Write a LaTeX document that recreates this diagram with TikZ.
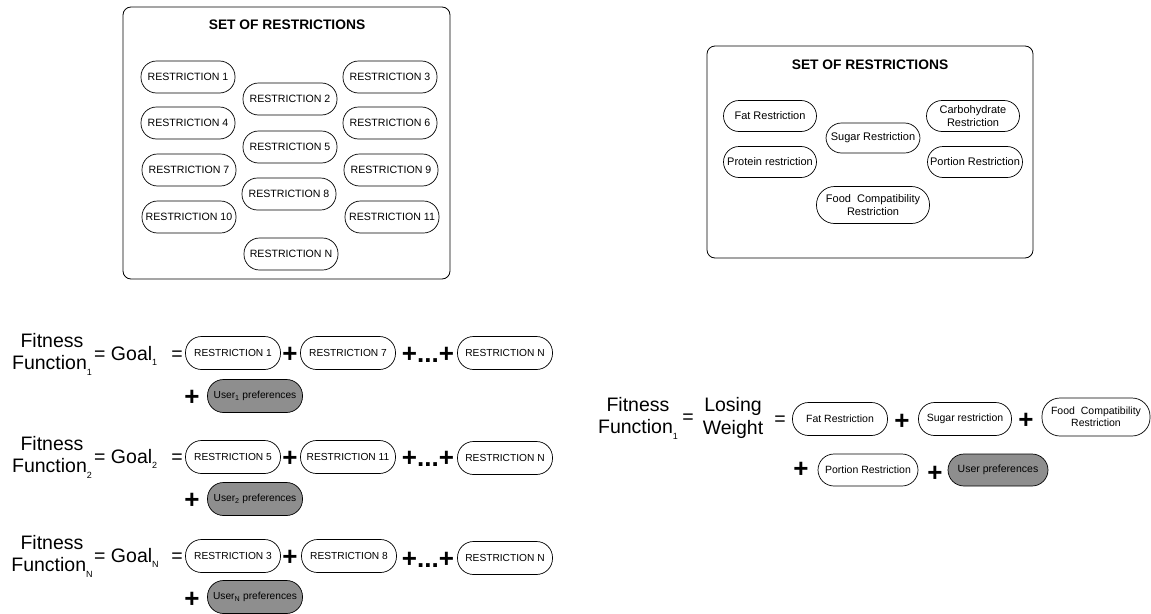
\documentclass[tikz,border=0pt]{standalone}
\usepackage{fontspec}
\setmainfont{Liberation Sans}
\definecolor{pillgray}{RGB}{142,142,142}
\newcommand\bigsub[1]{\raisebox{-5.5pt}{\fontsize{9}{9}\selectfont #1}}
\begin{document}
\begin{tikzpicture}[x=1pt,y=-1pt,
  pill/.style={draw, line width=0.7pt, rounded corners=15.5pt, minimum width=94pt, minimum height=32pt, inner sep=1pt, align=center, font=\fontsize{10.6}{12}\selectfont},
  rpill/.style={pill, minimum width=93pt, minimum height=31pt, font=\fontsize{11}{12.5}\selectfont},
  fpill/.style={pill, minimum width=95pt, minimum height=33pt, rounded corners=16pt, font=\fontsize{10.2}{11.5}\selectfont},
  upill/.style={fpill, fill=pillgray},
  frame/.style={draw, line width=0.8pt, rounded corners=8pt},
  title/.style={font=\fontsize{13.8}{16}\bfseries\selectfont, inner sep=0pt},
  big/.style={font=\fontsize{19.5}{22.5}\selectfont, align=center, inner sep=0pt},
  eqs/.style={font=\fontsize{19.5}{22}\selectfont, inner sep=0pt, anchor=base},
  plus/.style={font=\fontsize{26}{26}\bfseries\selectfont, inner sep=0pt, anchor=base},
]
\useasboundingbox (0,0) rectangle (1151,613);

% ---------- left set of restrictions ----------
\draw[frame] (123,7) rectangle (450,279);
\node[title] (ltitle) at (287,25) {SET OF RESTRICTIONS};
\node[pill] (r1)  at (188,77)  {RESTRICTION 1};
\node[pill] (r4)  at (188,123) {RESTRICTION 4};
\node[pill] (r7)  at (189,170) {RESTRICTION 7};
\node[pill] (r10) at (189,217) {RESTRICTION 10};
\node[pill] (r2)  at (290,99)  {RESTRICTION 2};
\node[pill] (r5)  at (290,147) {RESTRICTION 5};
\node[pill] (r8)  at (289,194) {RESTRICTION 8};
\node[pill] (rn)  at (291,254) {RESTRICTION N};
\node[pill] (r3)  at (390,77)  {RESTRICTION 3};
\node[pill] (r6)  at (390,123) {RESTRICTION 6};
\node[pill] (r9)  at (391,170) {RESTRICTION 9};
\node[pill] (r11) at (392,217) {RESTRICTION 11};

% ---------- right set of restrictions ----------
\draw[frame] (707,46) rectangle (1033,258);
\node[title] (rtitle) at (870,65) {SET OF RESTRICTIONS};
\node[rpill] (fat)  at (770,116) {Fat Restriction};
\node[rpill] (prot) at (770,162) {Protein restriction};
\node[rpill, minimum width=94pt, minimum height=30pt] (sug) at (873,138) {Sugar Restriction};
\node[rpill] (carb) at (973,116) {Carbohydrate\\Restriction};
\node[rpill, minimum width=95pt] (port) at (975,162) {Portion Restriction};
\node[rpill, minimum width=113pt, minimum height=37pt, rounded corners=18pt] (food) at (873,205) {Food\ \ Compatibility\\Restriction};

% ---------- left formulas ----------
% row 1
\node[big] (ff1) at (52,354) {Fitness\\Function\bigsub{1}};
\node[eqs, anchor=base west] (g1) at (94,360) {= Goal\bigsub{1}};
\node[eqs] (e1) at (177,360) {=};
\node[fpill] (a1) at (233,353) {RESTRICTION 1};
\node[plus] (p1a) at (290,362) {+};
\node[fpill] (b1) at (348,353) {RESTRICTION 7};
\node[plus] (p1b) at (428,362) {+...+};
\node[fpill] (c1) at (505,353) {RESTRICTION N};
\node[plus] (p1c) at (192,405) {+};
\node[upill] (u1) at (255,396) {User\textsubscript{1} preferences};
% row 2
\node[big] (ff2) at (52,457) {Fitness\\Function\bigsub{2}};
\node[eqs, anchor=base west] (g2) at (94,463) {= Goal\bigsub{2}};
\node[eqs] (e2) at (177,463) {=};
\node[fpill] (a2) at (233,457) {RESTRICTION 5};
\node[plus] (p2a) at (290,466) {+};
\node[fpill] (b2) at (348,457) {RESTRICTION 11};
\node[plus] (p2b) at (428,466) {+...+};
\node[fpill] (c2) at (505,458) {RESTRICTION N};
\node[plus] (p2c) at (192,508) {+};
\node[upill] (u2) at (255,499) {User\textsubscript{2} preferences};
% row 3
\node[big] (ff3) at (52,556) {Fitness\\Function\bigsub{N}};
\node[eqs, anchor=base west] (g3) at (94,562) {= Goal\bigsub{N}};
\node[eqs] (e3) at (177,562) {=};
\node[fpill] (a3) at (233,556) {RESTRICTION 3};
\node[plus] (p3a) at (290,565) {+};
\node[fpill] (b3) at (349,556) {RESTRICTION 8};
\node[plus] (p3b) at (428,567) {+...+};
\node[fpill] (c3) at (505,558) {RESTRICTION N};
\node[plus] (p3c) at (192,607) {+};
\node[upill] (u3) at (255,597) {User\textsubscript{N} preferences};

% ---------- right formula ----------
\node[big] (rff) at (638,418) {Fitness\\Function\bigsub{1}};
\node[eqs] (re1) at (688,423) {=};
\node[big] (lw) at (733,418) {Losing\\Weight};
\node[eqs] (re2) at (780,425) {=};
\node[fpill, font=\fontsize{10.5}{12}\selectfont] (rfat) at (840,419) {Fat Restriction};
\node[plus] (rp1) at (902,429) {+};
\node[fpill, minimum width=93pt, font=\fontsize{10.5}{12}\selectfont] (rsug) at (965,419) {Sugar restriction};
\node[plus] (rp2) at (1026,428) {+};
\node[fpill, minimum width=108pt, minimum height=38pt, rounded corners=18pt, font=\fontsize{10.5}{12}\selectfont] (rfood) at (1096,417) {Food\ \ Compatibility\\Restriction};
\node[plus] (rp3) at (801,477) {+};
\node[fpill, minimum width=100pt, minimum height=32pt, font=\fontsize{10.5}{12}\selectfont] (rport) at (868,470) {Portion Restriction};
\node[plus] (rp4) at (935,481) {+};
\node[upill, minimum width=100pt, minimum height=32pt, font=\fontsize{10.5}{12}\selectfont] (ruser) at (998,470) {User preferences};
\end{tikzpicture}
\end{document}
